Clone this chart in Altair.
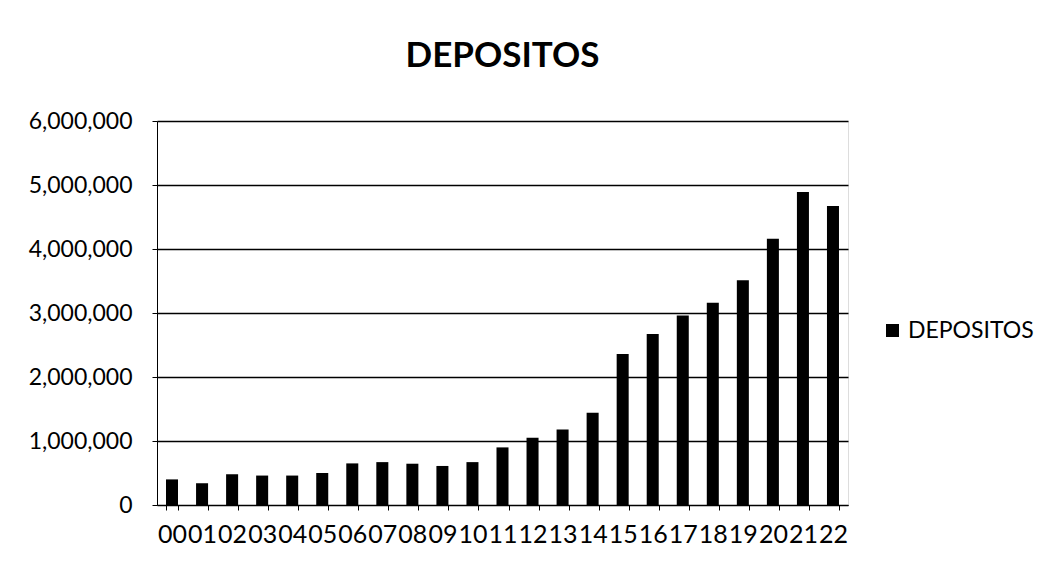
import altair as alt
import pandas as pd

years = ["00", "01", "02", "03", "04", "05", "06", "07", "08", "09", "10", "11",
         "12", "13", "14", "15", "16", "17", "18", "19", "20", "21", "22"]
depositos = [400000, 340000, 480000, 460000, 460000, 500000, 650000, 670000, 645000,
             610000, 670000, 900000, 1050000, 1180000, 1440000, 2360000, 2670000,
             2960000, 3160000, 3510000, 4160000, 4890000, 4670000]
series_name = "DEPOSITOS"

df = pd.DataFrame({"year": years, "value": depositos, "serie": [series_name] * len(years)})

FONT = "Lato"

chart = alt.Chart(df).mark_bar(color="black").encode(
    x=alt.X("year:N", sort=years, title=None,
            scale=alt.Scale(paddingInner=0.6, paddingOuter=0.3),
            axis=alt.Axis(labelAngle=0, labelFontSize=25, labelPadding=12,
                          labelColor="black", domainColor="black", tickColor="black",
                          tickBand="extent", tickSize=5, labelFont=FONT,
                          labelOverlap=False)),
    y=alt.Y("value:Q", title=None,
            scale=alt.Scale(domain=[0, 6000000], nice=False),
            axis=alt.Axis(values=[0, 1000000, 2000000, 3000000, 4000000, 5000000, 6000000],
                          format=",.0f", labelFontSize=23, labelColor="black",
                          labelFont=FONT, labelPadding=20, tickSize=5,
                          tickColor="black", domainColor="black",
                          gridColor="black", gridWidth=1.5)),
    color=alt.Color("serie:N", title=None,
                    scale=alt.Scale(range=["black"]),
                    legend=alt.Legend(orient="none", legendX=724, legendY=198,
                                      symbolType="square", symbolSize=170,
                                      labelFontSize=23, labelFont=FONT,
                                      labelColor="black")),
).properties(
    width=691,
    height=384,
    title=alt.Title(series_name, fontSize=35, font=FONT, fontWeight="bold",
                    color="black", anchor="middle", offset=36),
    autosize=alt.AutoSizeParams(type="none"),
    padding={"left": 149, "top": 113, "right": 198, "bottom": 57},
).configure_view(
    stroke="black", strokeWidth=1.5
).configure(
    background="white"
)

chart.save("out.html", embed_options={"renderer": "svg", "actions": False})
